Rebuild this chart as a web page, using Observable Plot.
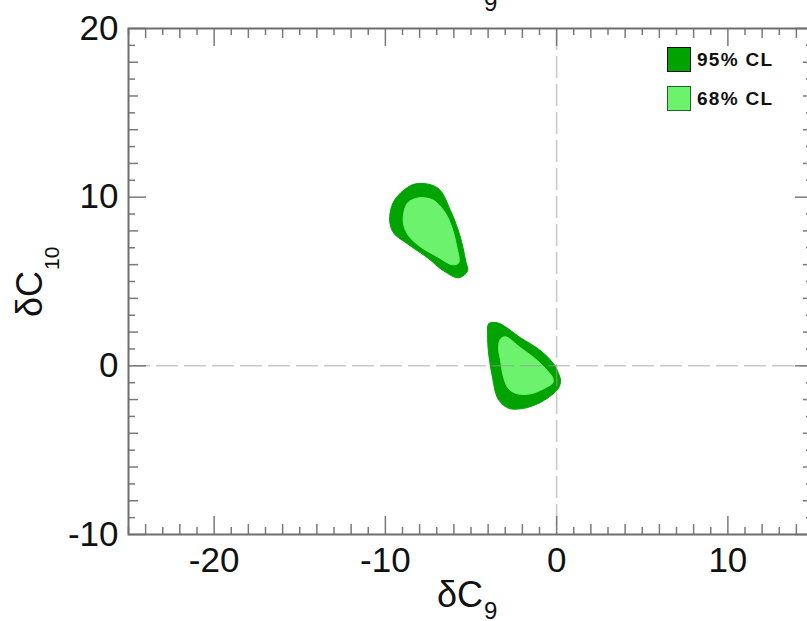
<!DOCTYPE html>
<html>
<head>
<meta charset="utf-8">
<script src="https://cdn.jsdelivr.net/npm/d3@7"></script>
<script src="https://cdn.jsdelivr.net/npm/@observablehq/plot@0.6"></script>
<style>
  html, body { margin: 0; padding: 0; background: #fff; overflow: hidden; }
  #wrap { position: relative; width: 807px; height: 621px; overflow: hidden; }
  #wrap svg { max-width: none !important; width: 823px; height: 621px; }
  .leg { position: absolute; font-family: "Liberation Sans", Arial, sans-serif; font-weight: bold; font-size: 19px; letter-spacing: 1.3px; color: #111; }
  .box { position: absolute; width: 22px; height: 23px; }
</style>
</head>
<body>
<div id="wrap"></div>
<script>
// ---- data ----
const xDomain = [-25, 15];
const yDomain = [-10, 20];
const xTickLabels = [-20, -10, 0, 10];
const yTickLabels = [-10, 0, 10, 20];
const xMediumTicks = [-24, -22, -18, -16, -14, -12, -8, -6, -4, -2, 2, 4, 6, 8, 12, 14];
const yMediumTicks = [-8, -6, -4, -2, 2, 4, 6, 8, 12, 14, 16, 18];
const xMinorTicks = [-25, -23, -21, -19, -17, -15, -13, -11, -9, -7, -5, -3, -1, 1, 3, 5, 7, 9, 11, 13];
const yMinorTicks = [-9, -7, -5, -3, -1, 1, 3, 5, 7, 9, 11, 13, 15, 17, 19];
const legendLabels = ["95% CL", "68% CL"];
const colors = ["#00a300", "#6cf26c"];

// upper-left island, 95% CL boundary (dC9, dC10)
const upper95 = [
  [-9.75, 8.60], [-9.58, 9.60], [-9.11, 10.25], [-8.23, 10.79], [-6.95, 10.55],
  [-6.19, 9.19], [-5.61, 7.59], [-5.31, 6.22], [-5.20, 5.63], [-5.72, 5.22],
  [-6.60, 5.63], [-7.53, 6.40], [-8.70, 7.23], [-9.52, 7.88]
];
// upper-left island, 68% CL boundary
const upper68 = [
  [-8.93, 9.01], [-8.70, 9.66], [-8.06, 9.96], [-7.24, 9.84], [-6.54, 9.13],
  [-6.13, 8.24], [-5.84, 7.11], [-5.72, 6.11], [-6.07, 5.99], [-6.95, 6.46],
  [-7.94, 7.05], [-8.64, 7.71], [-8.93, 8.36]
];
// lower island, 95% CL boundary
const lower95 = [
  [-4.03, 1.90], [-3.97, 2.49], [-3.45, 2.55], [-2.10, 1.66], [-0.93, 0.89],
  [-0.18, 0.12], [0.12, -0.47], [0.23, -0.89], [0.12, -1.30], [-0.35, -1.78],
  [-1.11, -2.25], [-2.10, -2.55], [-2.86, -2.49], [-3.45, -1.90], [-3.74, -0.71],
  [-3.97, 0.71]
];
// lower island, 68% CL boundary
const lower68 = [
  [-3.27, 1.60], [-2.98, 1.72], [-2.10, 1.07], [-1.11, 0.30], [-0.53, -0.30],
  [-0.23, -0.71], [-0.23, -1.01], [-0.76, -1.36], [-1.52, -1.66], [-2.28, -1.66],
  [-2.80, -1.36], [-3.09, -0.71], [-3.27, 0.30], [-3.39, 1.07]
];

// ---- layout ----
const W = 823, H = 621, mL = 128, mR = 10, mT = 28, mB = 87;
const iW = W - mL - mR, iH = H - mT - mB;
const axisColor = "#6e6e6e";
const tickCol = "#7a7a7a";

function region(pts, fill) {
  return Plot.line(pts, {x: d => d[0], y: d => d[1], curve: "catmull-rom-closed",
    fill, stroke: fill, strokeWidth: 1});
}
function ticksX(vals, len) {
  return [
    Plot.tickX(vals, {x: d => d, insetTop: iH - len, stroke: tickCol, strokeWidth: 1.5}),
    Plot.tickX(vals, {x: d => d, insetBottom: iH - len, stroke: tickCol, strokeWidth: 1.5})
  ];
}
function ticksY(vals, len) {
  return [
    Plot.tickY(vals, {y: d => d, insetRight: iW - len, stroke: tickCol, strokeWidth: 1.5}),
    Plot.tickY(vals, {y: d => d, insetLeft: iW - len, stroke: tickCol, strokeWidth: 1.5})
  ];
}

const chart = Plot.plot({
  width: W, height: H,
  marginLeft: mL, marginRight: mR, marginTop: mT, marginBottom: mB,
  style: {fontFamily: "'Liberation Sans', Arial, sans-serif", background: "white", overflow: "visible", maxWidth: "none"},
  x: {domain: xDomain, label: null},
  y: {domain: yDomain, label: null},
  marks: [
    region(upper95, colors[0]),
    region(upper68, colors[1]),
    region(lower95, colors[0]),
    region(lower68, colors[1]),
    Plot.ruleX([0], {stroke: "#9a9a9a", strokeOpacity: 0.55, strokeWidth: 1.5, strokeDasharray: "22,6"}),
    Plot.ruleY([0], {stroke: "#9a9a9a", strokeOpacity: 0.55, strokeWidth: 1.5, strokeDasharray: "22,6"}),
    ...ticksX(xMinorTicks, 7),
    ...ticksX(xMediumTicks, 10),
    ...ticksX(xTickLabels, 18),
    ...ticksY(yMinorTicks, 7),
    ...ticksY(yMediumTicks, 10),
    ...ticksY(yTickLabels, 18),
    Plot.frame({stroke: axisColor, strokeWidth: 2}),
    Plot.axisX(xTickLabels, {anchor: "bottom", tickSize: 0, tickPadding: 13, fontSize: 35, fill: "#111",
      tickFormat: d => String(d), label: null}),
    Plot.axisY(yTickLabels, {anchor: "left", tickSize: 0, tickPadding: 10, fontSize: 35, fill: "#111",
      tickFormat: d => String(d), label: null})
  ]
});

document.getElementById("wrap").appendChild(chart);

// axis titles with real subscripts
const svg = d3.select(chart);
const ff = "'Liberation Sans', Arial, sans-serif";
function title(x, y, sub, shift, rotate) {
  const t = svg.append("text")
    .attr("font-family", ff).attr("font-size", 36).attr("fill", "#111")
    .attr("text-anchor", "start")
    .attr("transform", `translate(${x},${y})` + (rotate ? " rotate(-90)" : ""));
  t.append("tspan").text("δC");
  t.append("tspan").attr("font-size", sub.length > 1 ? 21 : 24).attr("dy", shift).attr("dx", 1).text(sub);
}
title(437, 607, "9", 12, false);   // bottom axis title
title(437, -1, "9", 12, false);    // top axis title (cut off by the page edge, as in the reference)
title(42, 317, "10", 17, true);    // left axis title

// legend
const wrap = document.getElementById("wrap");
const legendY = [47, 86];
legendLabels.forEach((lab, i) => {
  const b = document.createElement("div");
  b.className = "box";
  b.style.left = "667px"; b.style.top = legendY[i] + "px";
  b.style.background = colors[i];
  b.style.border = i === 0 ? "1.5px solid #111" : "1.5px solid #1f6a1f";
  wrap.appendChild(b);
  const t = document.createElement("div");
  t.className = "leg";
  t.textContent = lab;
  t.style.left = "697px"; t.style.top = (legendY[i] + 2) + "px";
  wrap.appendChild(t);
});
</script>
</body>
</html>
